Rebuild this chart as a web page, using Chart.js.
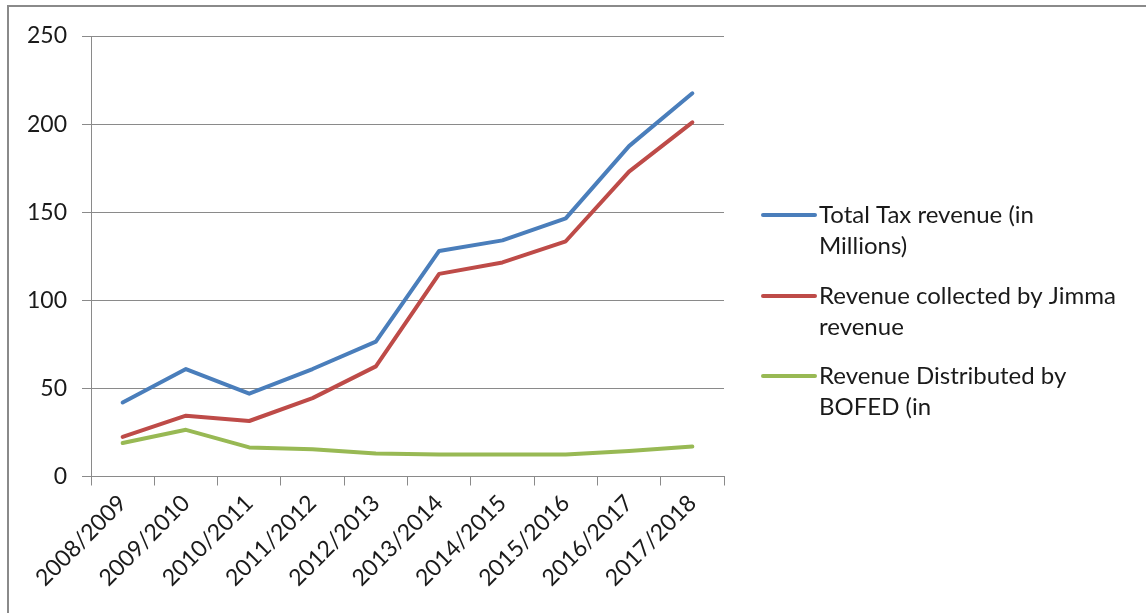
<!DOCTYPE html>
<html lang="en">
<head>
    <meta charset="UTF-8">
    <title>Tax revenue</title>
    <script src="https://cdn.jsdelivr.net/npm/chart.js@4.4.1/dist/chart.umd.min.js"></script>
    <style>
        html, body { margin: 0; padding: 0; background: #fff; overflow: hidden; }
        .container { position: relative; width: 1146px; height: 613px; overflow: hidden; }
        .frame {
            position: absolute; left: 7px; top: 5px; width: 1200px; height: 700px;
            border-left: 2px solid #8a8a8a; border-top: 2px solid #8a8a8a;
            pointer-events: none;
        }
    </style>
</head>
<body>
<div class="container">
    <canvas id="lineChart"></canvas>
    <div class="frame"></div>
</div>
<script>
var years = ["2008/2009", "2009/2010", "2010/2011", "2011/2012", "2012/2013",
             "2013/2014", "2014/2015", "2015/2016", "2016/2017", "2017/2018"];
var totalTax = [42, 61, 47, 61, 76.5, 128, 134, 146.5, 187.5, 217.5];
var jimmaRevenue = [22.5, 34.5, 31.5, 44.5, 62.5, 115, 121.5, 133.5, 173, 201];
var bofedRevenue = [19, 26.5, 16.5, 15.5, 13, 12.5, 12.5, 12.5, 14.5, 17];
var seriesNames = [
    ["Total Tax revenue (in", "Millions)"],
    ["Revenue collected by Jimma", "revenue"],
    ["Revenue Distributed by", "BOFED (in"]
];
var yTicks = [0, 50, 100, 150, 200, 250];

var fontFamily = "Lato, 'Open Sans', sans-serif";
var gridColor = '#8a8a8a';

// legend on the right, each entry wraps onto two lines
var sideLegend = {
    id: 'sideLegend',
    afterDraw: function (chart) {
        var ctx = chart.ctx;
        var tops = [215, 296, 376];
        ctx.save();
        ctx.font = '24px ' + fontFamily;
        ctx.textBaseline = 'middle';
        ctx.textAlign = 'left';
        chart.data.datasets.forEach(function (ds, i) {
            var y = tops[i];
            ctx.strokeStyle = ds.borderColor;
            ctx.lineWidth = 4;
            ctx.lineCap = 'round';
            ctx.beginPath();
            ctx.moveTo(763, y);
            ctx.lineTo(815, y);
            ctx.stroke();
            ctx.fillStyle = '#1a1a1a';
            ds.label.forEach(function (line, j) {
                ctx.fillText(line, 819, y + j * 31);
            });
        });
        ctx.restore();
    }
};

var ctx = document.getElementById("lineChart").getContext("2d");
var myChart = new Chart(ctx, {
    type: 'line',
    data: {
        labels: years,
        datasets: [{
            label: seriesNames[0],
            data: totalTax,
            borderColor: '#4a7ebb'
        }, {
            label: seriesNames[1],
            data: jimmaRevenue,
            borderColor: '#be4b48'
        }, {
            label: seriesNames[2],
            data: bofedRevenue,
            borderColor: '#98b954'
        }]
    },
    options: {
        responsive: true,
        maintainAspectRatio: false,
        animation: false,
        elements: {
            line: { borderWidth: 4, tension: 0, borderJoinStyle: 'round', borderCapStyle: 'round' },
            point: { radius: 0, hoverRadius: 0 }
        },
        layout: { padding: { top: 36, right: 422, bottom: 0, left: 0 } },
        plugins: {
            legend: { display: false },
            tooltip: { enabled: false }
        },
        scales: {
            x: {
                offset: true,
                grid: {
                    display: true,
                    offset: true,
                    drawOnChartArea: false,
                    tickLength: 9,
                    color: gridColor
                },
                border: { color: gridColor, width: 1 },
                ticks: {
                    autoSkip: false,
                    minRotation: 45,
                    maxRotation: 45,
                    padding: 4,
                    color: '#1a1a1a',
                    font: { family: fontFamily, size: 23 }
                },
                afterFit: function (scale) { scale.height = 136.5; }
            },
            y: {
                min: 0,
                max: 250,
                afterBuildTicks: function (scale) {
                    scale.ticks = yTicks.map(function (v) { return { value: v }; });
                },
                grid: { color: gridColor, tickLength: 9 },
                border: { color: gridColor, width: 1 },
                ticks: {
                    padding: 15,
                    color: '#1a1a1a',
                    font: { family: fontFamily, size: 23 }
                },
                afterFit: function (scale) { scale.width = 91; }
            }
        }
    },
    plugins: [sideLegend]
});
</script>
</body>
</html>
